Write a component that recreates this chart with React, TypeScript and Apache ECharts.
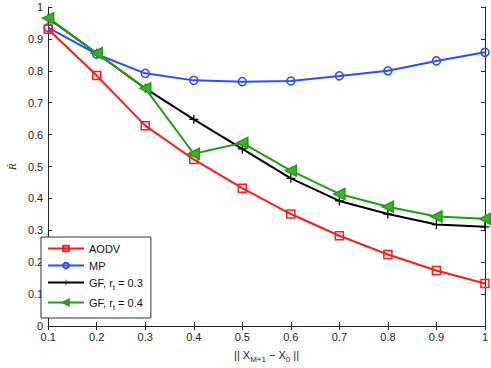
import React, { useEffect, useRef } from "react";
import * as echarts from "echarts";

const xs = [0.1, 0.2, 0.3, 0.4, 0.5, 0.6, 0.7, 0.8, 0.9, 1.0];
const aodv = [0.93, 0.785, 0.628, 0.522, 0.432, 0.351, 0.283, 0.224, 0.174, 0.133];
const mp = [0.935, 0.852, 0.792, 0.77, 0.766, 0.768, 0.784, 0.8, 0.831, 0.858];
const gf3 = [0.965, 0.855, 0.745, 0.648, 0.555, 0.463, 0.392, 0.351, 0.318, 0.311];
const gf4 = [0.965, 0.855, 0.745, 0.54, 0.574, 0.487, 0.414, 0.374, 0.343, 0.336];

const seriesNames = ["AODV", "MP", "GF, rt = 0.3", "GF, rt = 0.4"];
const legendLabels: Record<string, string> = {
  "AODV": "{n|AODV}",
  "MP": "{n|MP}",
  "GF, rt = 0.3": "{n|GF, r}{sub|t}{n| = 0.3}",
  "GF, rt = 0.4": "{n|GF, r}{sub|t}{n| = 0.4}",
};

const pairs = (ys: number[]) => xs.map((x, i) => [x, ys[i]]);

const PLUS =
  "path://M-0.14,-1 L0.14,-1 L0.14,-0.14 L1,-0.14 L1,0.14 L0.14,0.14 L0.14,1 L-0.14,1 L-0.14,0.14 L-1,0.14 L-1,-0.14 L-0.14,-0.14 Z";

const FONT = "Liberation Sans, Arial, sans-serif";
const AX = "#262626";

export default function App() {
  const ref = useRef<HTMLDivElement>(null);
  useEffect(() => {
    if (!ref.current) return;
    const chart = echarts.init(ref.current, undefined, { renderer: "svg" });
    const axisCommon = {
      axisLine: { show: true, lineStyle: { color: AX, width: 1 } },
      axisTick: { show: true, inside: true, length: 4, lineStyle: { color: AX } },
      splitLine: { show: false },
    };
    const fmt = (v: number) => String(Math.round(v * 10) / 10);
    chart.setOption({
      animation: false,
      backgroundColor: "#ffffff",
      grid: { left: 32, right: 4, top: 7, bottom: 39 },
      xAxis: [
        {
          type: "value",
          min: 0.1,
          max: 1,
          interval: 0.1,
          ...axisCommon,
          axisLabel: { color: "#222", fontSize: 11, fontFamily: FONT, margin: 5, formatter: fmt },
          name: "|| X{sub|M+1} − X{sub|0} ||",
          nameLocation: "middle",
          nameGap: 20,
          nameTextStyle: {
            color: "#222",
            fontSize: 11,
            fontFamily: FONT,
            rich: { sub: { fontSize: 8, fontFamily: FONT, color: "#222", padding: [9, 0, 0, 0] } },
          },
        },
        {
          type: "value",
          position: "top",
          min: 0.1,
          max: 1,
          interval: 0.1,
          ...axisCommon,
          axisLabel: { show: false },
        },
      ],
      yAxis: [
        {
          type: "value",
          min: 0,
          max: 1,
          interval: 0.1,
          ...axisCommon,
          axisLabel: { color: "#222", fontSize: 11, fontFamily: FONT, margin: 5, formatter: fmt },
          name: "R\u0303",
          nameLocation: "middle",
          nameRotate: 90,
          nameGap: 27,
          nameTextStyle: { color: "#222", fontSize: 9, fontStyle: "italic", fontFamily: "DejaVu Serif, serif" },
        },
        {
          type: "value",
          position: "right",
          min: 0,
          max: 1,
          interval: 0.1,
          ...axisCommon,
          axisLabel: { show: false },
        },
      ],
      legend: {
        orient: "vertical",
        left: 41,
        top: 237,
        padding: [6, 8, 7, 6],
        itemGap: 6,
        itemWidth: 36,
        itemHeight: 7,
        borderColor: "#333",
        borderWidth: 1,
        borderRadius: 0,
        backgroundColor: "#fff",
        data: seriesNames,
        formatter: (name: string) => legendLabels[name],
        textStyle: {
          color: "#111",
          rich: {
            n: { fontSize: 11, fontFamily: FONT, color: "#111" },
            sub: { fontSize: 8, fontFamily: FONT, color: "#111", padding: [9, 0, 0, 0] },
          },
        },
      },
      series: [
        {
          name: seriesNames[0],
          type: "line",
          data: pairs(aodv),
          color: "#ff1a1a",
          lineStyle: { width: 2, color: "#ff1a1a" },
          symbol: "rect",
          symbolSize: 8,
          itemStyle: { color: "rgba(255,255,255,0)", borderColor: "#ff1a1a", borderWidth: 1.5 },
          z: 5,
        },
        {
          name: seriesNames[1],
          type: "line",
          data: pairs(mp),
          color: "#2b4cff",
          lineStyle: { width: 2, color: "#2b4cff" },
          symbol: "circle",
          symbolSize: 8,
          itemStyle: { color: "rgba(255,255,255,0)", borderColor: "#2b4cff", borderWidth: 1.5 },
          z: 4,
        },
        {
          name: seriesNames[2],
          type: "line",
          data: pairs(gf3),
          color: "#000000",
          lineStyle: { width: 2, color: "#000000" },
          symbol: PLUS,
          symbolSize: 9,
          itemStyle: { color: "#000000" },
          z: 3,
        },
        {
          name: seriesNames[3],
          type: "line",
          data: pairs(gf4),
          color: "#1f9e12",
          lineStyle: { width: 2, color: "#1f9e12" },
          symbol: "triangle",
          symbolRotate: 90,
          symbolSize: 11,
          itemStyle: { color: "#3fae2a", borderColor: "#1f9e12", borderWidth: 1.5 },
          z: 6,
        },
      ],
    });
    return () => chart.dispose();
  }, []);
  return (
    <div
      ref={ref}
      style={{ position: "fixed", left: 0, top: 0, width: 491, height: 368, background: "#fff" }}
    />
  );
}
